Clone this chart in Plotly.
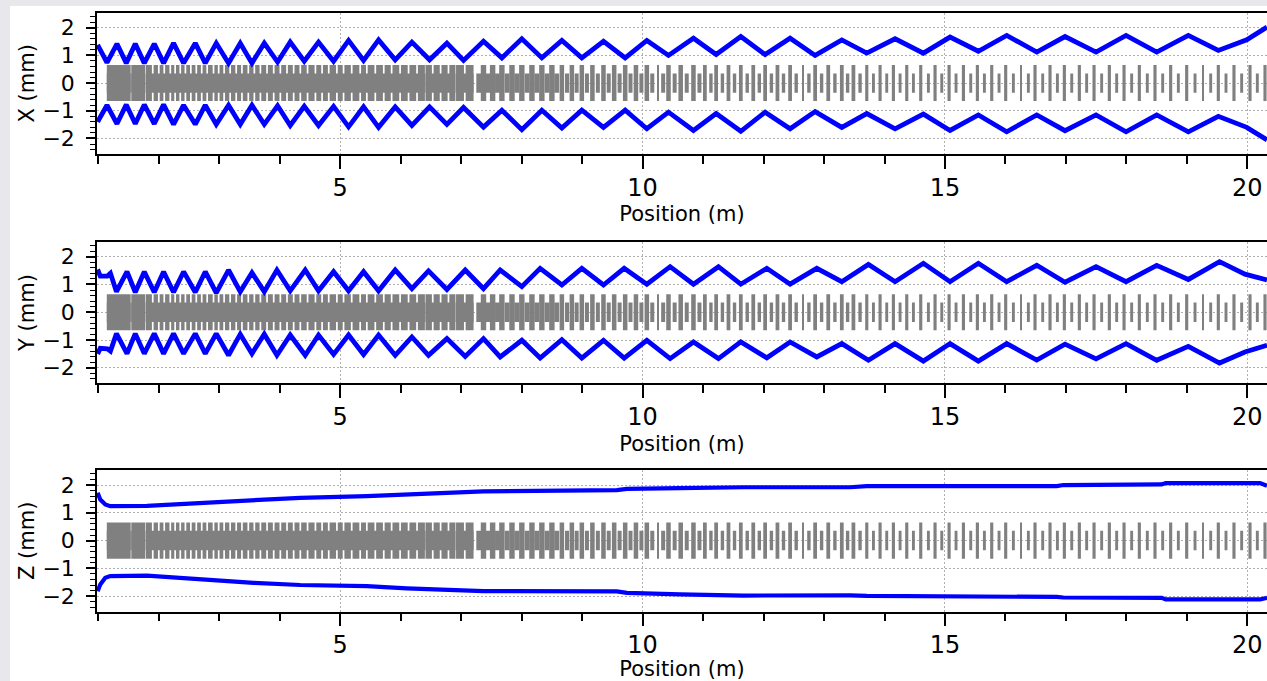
import plotly.graph_objects as go

# ---------------- beam envelope data: position (m) -> half-size (mm) ----------------
x_env_pos = [0.988, 1.143, 1.308, 1.462, 1.611, 1.760, 1.925, 2.079, 2.244, 2.410,
             2.603, 2.768, 2.950, 3.153, 3.347, 3.540, 3.744, 3.964, 4.173, 4.405,
             4.641, 4.890, 5.138, 5.386, 5.634, 5.909, 6.185, 6.477, 6.764, 7.039,
             7.369, 7.673, 8.003, 8.334, 8.665, 8.995, 9.353, 9.712, 10.070, 10.428,
             10.841, 11.216, 11.624, 12.026, 12.439, 12.853, 13.294, 13.707, 14.175, 14.643,
             15.084, 15.552, 16.021, 16.518, 16.985, 17.498, 17.994, 18.501, 19.024, 19.520,
             19.990, 20.325]
x_env_upper = [1.38, 0.74, 1.42, 0.72, 1.42, 0.72, 1.42, 0.72, 1.44, 0.72,
               1.44, 0.72, 1.44, 0.72, 1.44, 0.72, 1.44, 0.76, 1.48, 0.79,
               1.48, 0.79, 1.54, 0.82, 1.56, 0.84, 1.48, 0.84, 1.44, 0.82,
               1.51, 0.91, 1.60, 0.91, 1.54, 0.91, 1.51, 0.91, 1.54, 1.00,
               1.62, 1.03, 1.68, 1.03, 1.62, 1.00, 1.56, 1.08, 1.60, 1.08,
               1.66, 1.15, 1.72, 1.12, 1.68, 1.12, 1.72, 1.12, 1.72, 1.18,
               1.56, 2.02]
x_env_lower = [-1.40, -0.80, -1.47, -0.78, -1.47, -0.78, -1.47, -0.78, -1.49, -0.80,
               -1.49, -0.80, -1.49, -0.80, -1.49, -0.80, -1.49, -0.82, -1.53, -0.84,
               -1.53, -0.84, -1.58, -0.86, -1.60, -0.86, -1.53, -0.86, -1.49, -0.88,
               -1.59, -0.98, -1.68, -0.98, -1.62, -0.98, -1.60, -0.98, -1.65, -1.05,
               -1.71, -1.10, -1.74, -1.05, -1.65, -1.03, -1.60, -1.10, -1.65, -1.12,
               -1.71, -1.15, -1.76, -1.15, -1.72, -1.15, -1.76, -1.15, -1.76, -1.20,
               -1.60, -2.05]

y_env_pos = [0.988, 1.032, 1.150, 1.200, 1.300, 1.474, 1.611, 1.760, 1.925, 2.079,
             2.244, 2.410, 2.603, 2.768, 2.950, 3.153, 3.347, 3.540, 3.744, 3.953,
             4.173, 4.421, 4.641, 4.890, 5.138, 5.386, 5.634, 5.909, 6.185, 6.460,
             6.764, 7.067, 7.369, 7.645, 8.003, 8.306, 8.665, 8.995, 9.353, 9.695,
             10.070, 10.455, 10.841, 11.254, 11.624, 12.054, 12.439, 12.880, 13.294, 13.734,
             14.175, 14.643, 15.084, 15.552, 16.021, 16.518, 16.985, 17.498, 17.994, 18.501,
             19.024, 19.540, 19.960, 20.325]
y_env_upper = [1.54, 1.30, 1.30, 1.40, 0.74, 1.46, 0.72, 1.46, 0.72, 1.46,
               0.72, 1.46, 0.72, 1.46, 0.70, 1.52, 0.74, 1.42, 0.74, 1.52,
               0.77, 1.52, 0.77, 1.46, 0.77, 1.46, 0.77, 1.52, 0.85, 1.49,
               0.82, 1.52, 0.85, 1.52, 0.92, 1.58, 0.98, 1.58, 0.98, 1.58,
               1.01, 1.64, 1.01, 1.64, 1.01, 1.58, 1.01, 1.58, 1.10, 1.72,
               1.10, 1.76, 1.10, 1.76, 1.10, 1.69, 1.08, 1.64, 1.10, 1.69,
               1.18, 1.82, 1.37, 1.16]
y_env_lower = [-1.50, -1.30, -1.32, -1.40, -0.77, -1.49, -0.77, -1.49, -0.77, -1.49,
               -0.77, -1.49, -0.77, -1.49, -0.77, -1.55, -0.79, -1.49, -0.79, -1.55,
               -0.82, -1.55, -0.82, -1.52, -0.82, -1.52, -0.82, -1.55, -0.89, -1.55,
               -0.95, -1.59, -0.95, -1.61, -1.01, -1.65, -0.99, -1.65, -1.01, -1.65,
               -1.01, -1.67, -1.07, -1.67, -1.07, -1.64, -1.07, -1.61, -1.13, -1.73,
               -1.13, -1.76, -1.13, -1.76, -1.13, -1.72, -1.15, -1.68, -1.13, -1.73,
               -1.23, -1.83, -1.43, -1.19]

z_env_pos = [0.988, 1.032, 1.115, 1.197, 1.804, 2.686, 3.567, 4.339, 5.441, 6.102,
             6.653, 7.369, 9.574, 9.740, 10.621, 11.668, 13.431, 13.707, 16.848, 16.958,
             18.584, 18.650, 20.209, 20.325]
z_env_upper = [1.72, 1.48, 1.30, 1.24, 1.25, 1.36, 1.45, 1.54, 1.60, 1.66,
               1.70, 1.77, 1.82, 1.86, 1.89, 1.92, 1.92, 1.96, 1.96, 2.00,
               2.02, 2.07, 2.07, 1.97]
z_env_lower = [-1.82, -1.58, -1.34, -1.28, -1.26, -1.40, -1.52, -1.60, -1.64, -1.72,
               -1.76, -1.82, -1.83, -1.88, -1.94, -1.98, -1.97, -1.99, -2.03, -2.05,
               -2.06, -2.12, -2.12, -2.06]

# ---------------- lattice layout (m) ----------------
tank_start = [1.14, 1.545, 1.785, 6.41, 6.915]
tank_end = [1.535, 1.775, 6.40, 6.905, 7.205]
drift_gap_pos = [1.90, 2.00, 2.09, 2.19, 2.27, 2.355, 2.44, 2.53, 2.62, 2.71,
                 2.80, 2.905, 2.99, 3.08, 3.18, 3.28, 3.375, 3.48, 3.58, 3.68,
                 3.79, 3.90, 4.01, 4.12, 4.23, 4.34, 4.46, 4.59, 4.70, 4.81,
                 4.945, 5.055, 5.19, 5.33, 5.44, 5.58, 5.72, 5.85, 5.99, 6.13,
                 6.27, 6.53, 6.66, 6.79, 7.06]
quad_pos = [7.369, 7.52, 7.673, 7.84, 8.003, 8.17, 8.334, 8.50, 8.665, 8.83,
            8.995, 9.17, 9.353, 9.53, 9.712, 9.89, 10.070, 10.428, 10.63, 10.841,
            11.03, 11.216, 11.42, 11.624, 11.83, 12.026, 12.23, 12.439, 12.853, 13.07,
            13.294, 13.486, 13.707, 13.927, 14.147, 14.368, 14.599, 14.836, 15.068, 15.305,
            15.536, 15.773, 16.004, 16.489, 16.737, 16.974, 17.222, 17.465, 17.718, 17.961,
            18.214, 18.473, 18.732, 18.997, 19.520, 19.779, 20.044, 20.292]
cell_pos = [7.29, 7.44, 7.60, 7.76, 7.92, 8.09, 8.25, 8.42, 8.58, 8.75,
            8.91, 9.08, 9.26, 9.44, 9.62, 9.80, 9.98, 10.16, 10.34, 10.53,
            10.73, 10.94, 11.13, 11.32, 11.52, 11.73, 11.93, 12.13, 12.33, 12.54,
            12.75, 12.96, 13.18, 13.39, 13.596, 13.817, 14.037, 14.258, 14.478, 14.726,
            14.947, 15.183, 15.426, 15.652, 15.894, 16.131, 16.379, 16.616, 16.859, 17.096,
            17.343, 17.591, 17.839, 18.087, 18.346, 18.600, 18.859, 19.135, 19.394, 19.647,
            19.906, 20.165]
thin_pos = [10.25, 12.65, 16.252, 19.261]
width_section_end = [8.6, 11.0, 13.6, 21.0]
quad_width = [0.09, 0.075, 0.062, 0.052]
cell_width = [0.08, 0.066, 0.056, 0.048]
gap_width = 0.028
thin_width = 0.016

# ---------------- style ----------------
TALL = 0.65
SHORT = 0.35
GRAY = "#808080"
BLUE = "#0000ff"
FONT = "DejaVu Sans"
X_RANGE = [0.978, 20.325]
Y_RANGE = [-2.56, 2.54]
DOMAINS = [[0.7739, 0.9813], [0.4371, 0.6451], [0.1018, 0.3098]]
GRID_DASH = "2px,2px"


def width_for(x, widths):
    for end, w in zip(width_section_end, widths):
        if x < end:
            return w
    return widths[-1]


# derive drift-tube blocks inside each tank (tank split at drift gaps)
block_c, block_w = [], []
for s, e in zip(tank_start, tank_end):
    edges = [s]
    for g in drift_gap_pos:
        if s < g < e:
            edges += [g - gap_width / 2, g + gap_width / 2]
    edges.append(e)
    for a, b in zip(edges[0::2], edges[1::2]):
        block_c.append((a + b) / 2)
        block_w.append(b - a)
tank_c = [(s + e) / 2 for s, e in zip(tank_start, tank_end)]
tank_w = [e - s for s, e in zip(tank_start, tank_end)]
quad_w = [width_for(x, quad_width) for x in quad_pos]
cell_w = [width_for(x, cell_width) for x in cell_pos]

envelopes = [
    (x_env_pos, x_env_upper, x_env_lower, "X (mm)", 4.8),
    (y_env_pos, y_env_upper, y_env_lower, "Y (mm)", 4.8),
    (z_env_pos, z_env_upper, z_env_lower, "Z (mm)", 4.2),
]

fig = go.Figure()


def bars(xs, ws, half, xa, ya):
    fig.add_trace(go.Bar(
        x=xs, y=[2 * half] * len(xs), base=[-half] * len(xs), width=ws,
        marker=dict(color=GRAY, line=dict(width=0)), opacity=1,
        xaxis=xa, yaxis=ya, showlegend=False, hoverinfo="skip"))


for i, (pos, up, lo, title, lw) in enumerate(envelopes):
    suffix = "" if i == 0 else str(i + 1)
    xa, ya = "x" + suffix, "y" + suffix
    bars(tank_c, tank_w, SHORT, xa, ya)
    bars(block_c, block_w, TALL, xa, ya)
    bars(cell_pos, cell_w, SHORT, xa, ya)
    bars(quad_pos, quad_w, TALL, xa, ya)
    bars(thin_pos, [thin_width] * len(thin_pos), TALL, xa, ya)
    for series in (up, lo):
        fig.add_trace(go.Scatter(
            x=pos, y=series, mode="lines",
            line=dict(color=BLUE, width=lw),
            xaxis=xa, yaxis=ya, showlegend=False, hoverinfo="skip"))

    fig.layout["xaxis" + suffix] = dict(
        domain=[0, 1], anchor=ya, range=X_RANGE,
        tick0=0, dtick=5, ticks="outside", ticklen=13, tickwidth=1.5, tickcolor="black",
        minor=dict(dtick=1, ticks="outside", ticklen=8, tickwidth=1.5, tickcolor="black",
                   showgrid=False),
        showgrid=True, gridcolor="#b0b0b0", griddash=GRID_DASH, gridwidth=1,
        showline=True, linecolor="black", linewidth=1.5, mirror=True,
        zeroline=False, ticklabelstandoff=-2,
        tickfont=dict(family=FONT, size=24, color="black"),
        title=dict(text="Position (m)", font=dict(family=FONT, size=21, color="black"),
                   standoff=6),
    )
    fig.layout["yaxis" + suffix] = dict(
        domain=DOMAINS[i], anchor=xa, range=Y_RANGE,
        tick0=0, dtick=1, ticks="outside", ticklen=9, tickwidth=1.5, tickcolor="black",
        minor=dict(dtick=0.2, ticks="outside", ticklen=5, tickwidth=1.2, tickcolor="black",
                   showgrid=False),
        showgrid=True, gridcolor="#b0b0b0", griddash=GRID_DASH, gridwidth=1,
        showline=True, linecolor="black", linewidth=1.5, mirror=False,
        zeroline=False, ticklabelstandoff=7,
        tickfont=dict(family=FONT, size=22, color="black"),
        title=dict(text=title, font=dict(family=FONT, size=21, color="black"), standoff=2),
    )

fig.update_layout(
    width=1267, height=681,
    margin=dict(l=97, r=0, t=0, b=0),
    barmode="overlay",
    paper_bgcolor="#e8e8ec",
    plot_bgcolor="white",
    font=dict(family=FONT, color="black"),
    shapes=[dict(type="rect", xref="paper", yref="paper", layer="below",
                 x0=(10 - 97) / 1170, x1=1.02, y0=-0.02, y1=(681 - 6) / 681,
                 fillcolor="white", line=dict(width=0))],
)

fig.write_html("out.html",
               config={"displayModeBar": False},
               post_script="document.body.style.margin='0';document.body.style.overflow='hidden';")
